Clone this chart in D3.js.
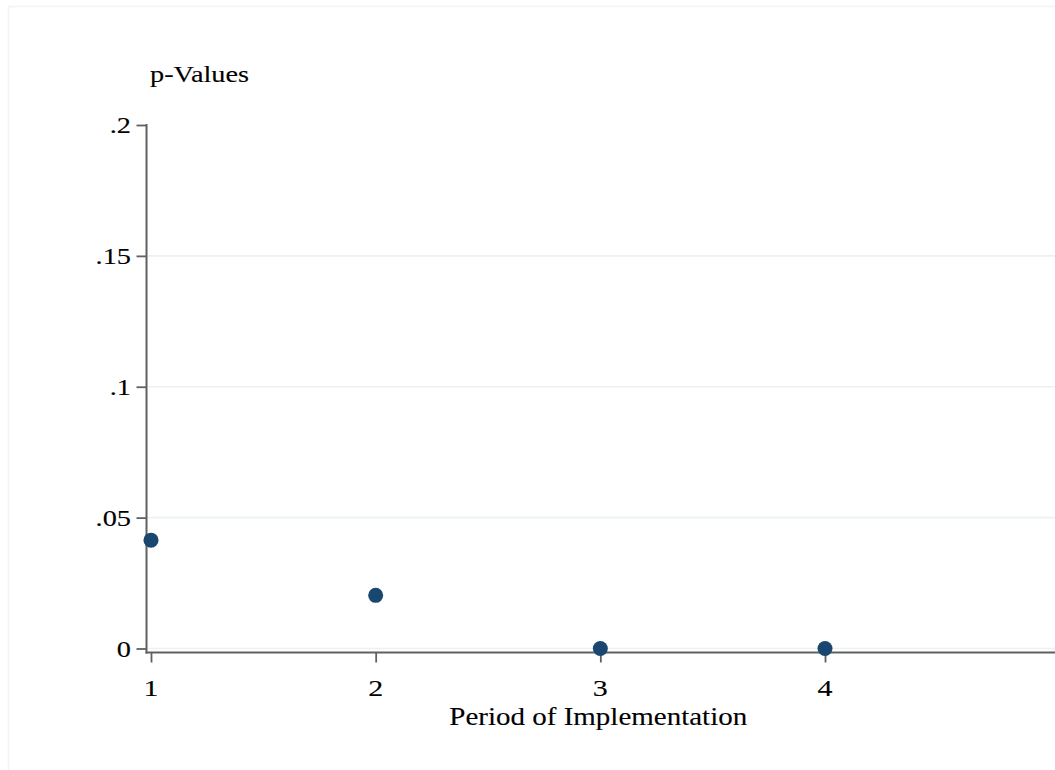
<!DOCTYPE html>
<html>
<head>
<meta charset="utf-8">
<script src="https://cdn.jsdelivr.net/npm/d3@7/dist/d3.min.js"></script>
<style>
  html, body { margin: 0; padding: 0; background: #ffffff; }
  svg { display: block; }
  text { font-family: "Liberation Serif", "Times New Roman", serif; fill: #000; stroke: #000; stroke-width: 0.12px; }
</style>
</head>
<body>
<svg id="chart" width="1055" height="770"></svg>
<script>
// ---- data ----
const periods = [1, 2, 3, 4];
const pValues = [0.0414, 0.0203, 0, 0];
const yTicks = [0, 0.05, 0.1, 0.15, 0.2];
const yTickLabels = ["0", ".05", ".1", ".15", ".2"];
const gridValues = [0, 0.05, 0.1, 0.15];
const xTicks = [1, 2, 3, 4];
const xTitle = "Period of Implementation";
const yTitle = "p-Values";

// ---- layout ----
const svg = d3.select("#chart");
const W = 1055, H = 770;
const fontSize = 24, sx = 1.18;
const axisColor = "#606060";

const x = d3.scaleLinear().domain([1, 4]).range([151, 825]);
const y = d3.scaleLinear().domain([0, 0.2]).range([648.5, 125]);
const plotLeft = 146.5, plotRight = W, xAxisY = 652.5;

// faint outer frame
svg.append("rect").attr("x", 8.5).attr("y", 6.5).attr("width", W).attr("height", H)
  .attr("fill", "#ffffff").attr("stroke", "#f3f3f3").attr("stroke-width", 1.5);

// gridlines
svg.append("g").selectAll("line").data(gridValues).join("line")
  .attr("x1", plotLeft + 1).attr("x2", plotRight)
  .attr("y1", d => y(d)).attr("y2", d => y(d))
  .attr("stroke", "#eaf2f3").attr("stroke-width", 1.6);

// y axis via d3.axisLeft
const yAxis = d3.axisLeft(y).tickValues(yTicks).tickSize(10).tickPadding(6)
  .tickFormat((d, i) => yTickLabels[i]);
const gy = svg.append("g").attr("transform", `translate(${plotLeft},0)`).call(yAxis);
gy.select(".domain").remove();
gy.selectAll(".tick line").attr("stroke", axisColor).attr("stroke-width", 1.8);
gy.selectAll(".tick text").remove();
svg.append("line").attr("x1", plotLeft).attr("x2", plotLeft)
  .attr("y1", y(0.2) - 1).attr("y2", xAxisY + 1)
  .attr("stroke", axisColor).attr("stroke-width", 2);
// y tick labels (horizontally stretched like reference)
svg.append("g").selectAll("text").data(yTicks).join("text")
  .attr("transform", d => `translate(131,${y(d) + 8}) scale(${sx},1)`)
  .attr("text-anchor", "end").attr("font-size", fontSize)
  .text((d, i) => yTickLabels[i]);

// x axis via d3.axisBottom
const xAxis = d3.axisBottom(x).tickValues(xTicks).tickSize(10).tickFormat(d3.format("d"));
const gx = svg.append("g").attr("transform", `translate(0,${xAxisY})`).call(xAxis);
gx.select(".domain").remove();
gx.selectAll(".tick line").attr("stroke", axisColor).attr("stroke-width", 1.8);
gx.selectAll(".tick text").remove();
svg.append("line").attr("x1", plotLeft - 1).attr("x2", plotRight)
  .attr("y1", xAxisY).attr("y2", xAxisY)
  .attr("stroke", axisColor).attr("stroke-width", 2);
svg.append("g").selectAll("text").data(xTicks).join("text")
  .attr("transform", d => `translate(${x(d)},696) scale(1.25,1)`)
  .attr("text-anchor", "middle").attr("font-size", fontSize)
  .text(d => d3.format("d")(d));

// titles
svg.append("text")
  .attr("transform", `translate(${(plotLeft + 1050) / 2},724.5) scale(1.16,1)`)
  .attr("text-anchor", "middle").attr("font-size", 25)
  .text(xTitle);
svg.append("text")
  .attr("transform", `translate(150,82) scale(${sx},1)`)
  .attr("text-anchor", "start").attr("font-size", 24)
  .text(yTitle);

// points
svg.append("g").selectAll("circle").data(periods).join("circle")
  .attr("cx", d => x(d)).attr("cy", (d, i) => y(pValues[i]))
  .attr("r", 7.5).attr("fill", "#1a476f");
</script>
</body>
</html>
